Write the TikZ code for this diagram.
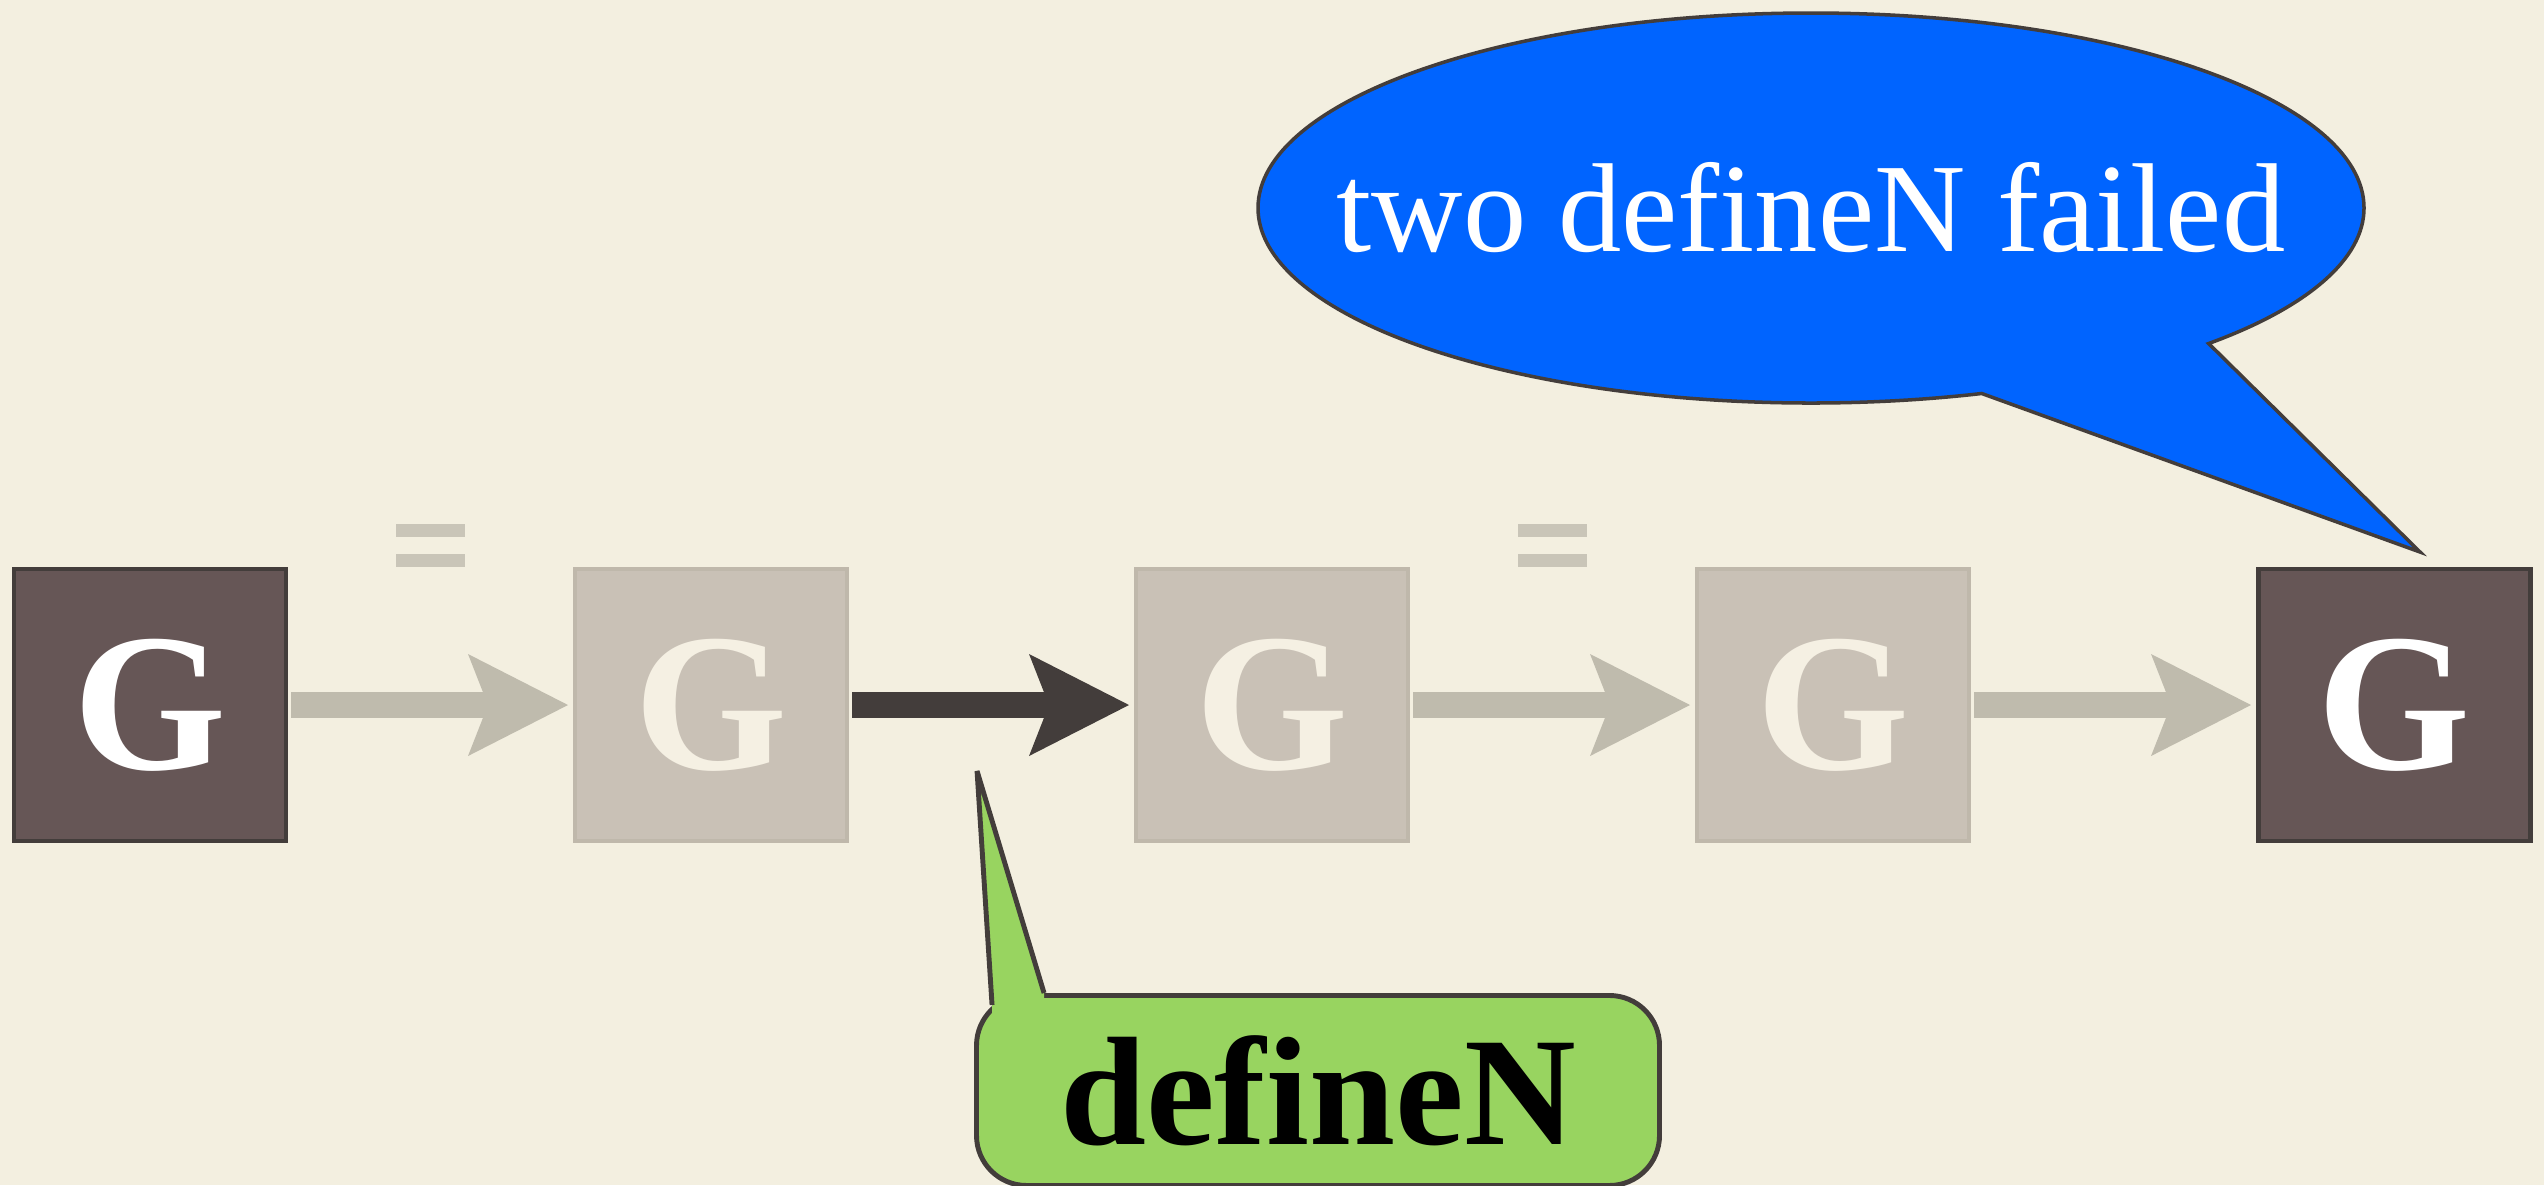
\documentclass[tikz,border=0pt]{standalone}
\usepackage{fontspec}
\setmainfont{Liberation Serif}
\usetikzlibrary{positioning, arrows.meta, shapes.callouts, calc}

\definecolor{paper}{HTML}{F3EFE0}
\definecolor{slate}{HTML}{665656}
\definecolor{ink}{HTML}{433D3B}
\definecolor{ghost}{HTML}{C9C1B6}
\definecolor{ghostline}{HTML}{BFB8AB}
\definecolor{ghostarrow}{HTML}{BFBBAD}
\definecolor{eqgray}{HTML}{C9C5B8}
\definecolor{cream}{HTML}{F5F0E3}
\definecolor{bubbleblue}{HTML}{0064FF}
\definecolor{taggreen}{HTML}{98D460}

\begin{document}
\begin{tikzpicture}[
  gbox/.style={draw=ink, line width=1.4pt, fill=slate, text=white, minimum size=2.72cm, inner sep=0pt, outer sep=0pt, font=\fontsize{56}{56}\selectfont\bfseries},
  gfade/.style={gbox, draw=ghostline, line width=1.1pt, fill=ghost, text=cream},
  flow/.style={-{Stealth[length=1cm, width=1.02cm, inset=0.2cm, line width=0pt]}, line width=0.26cm, draw=ghostarrow, shorten <=0.05cm, shorten >=0.07cm},
  flowdark/.style={flow, draw=ink},
  eqsign/.style={minimum width=0.69cm, minimum height=0.43cm, inner sep=0pt, yshift=1.6cm,
    path picture={
      \fill[eqgray] (path picture bounding box.north west) rectangle ([yshift=-0.13cm]path picture bounding box.north east);
      \fill[eqgray] (path picture bounding box.south west) rectangle ([yshift=0.13cm]path picture bounding box.south east);}},
  bubble/.style={ellipse callout, draw=ink, line width=1pt, fill=bubbleblue, minimum width=11.06cm, minimum height=3.9cm, inner sep=0pt, callout pointer arc=28},
  tag/.style={draw=ink, line width=1.4pt, fill=taggreen, rounded corners=0.5cm, minimum width=6.83cm, minimum height=1.9cm, inner sep=0pt, font=\fontsize{44}{44}\selectfont\bfseries}
]
  \fill[paper] (0,0) rectangle (25.44,-11.85);
  \useasboundingbox (0,0) rectangle (25.44,-11.85);

  % the chain of G's
  \node[gbox] (g1) at (1.50,-7.05) {G};
  \node[gfade, right=2.89cm of g1] (g2) {G};
  \node[gfade, right=2.89cm of g2] (g3) {G};
  \node[gfade, right=2.89cm of g3] (g4) {G};
  \node[gbox, right=2.89cm of g4] (g5) {G};

  \draw[flow] (g1) -- (g2);
  \draw[flowdark] (g2) -- (g3);
  \draw[flow] (g3) -- (g4);
  \draw[flow] (g4) -- (g5);

  \path (g1) -- node[eqsign] (eq1) {} (g2);
  \path (g3) -- node[eqsign] (eq2) {} (g4);

  % speech bubble
  \node[bubble, callout absolute pointer={($(g5.north)+(0.26,0.17)$)}] (fail) at (18.11,-2.08) {};
  \node[font=\fontsize{36}{36}\selectfont, text=white] (failtxt) at (fail.center) {two defineN failed};

  % green tag
  \coordinate (hint) at ($(g2.east)!0.45!(g3.west)+(0,-0.66)$);
  \node[tag, below=1.52cm of g3, xshift=0.46cm] (defn) {defineN};
  \fill[taggreen] (hint) -- ($(defn.north west)+(0.70,0)$) -- ($(defn.north west)+(0.70,-0.15)$)
    -- ($(defn.north west)+(0.18,-0.30)$) -- ($(defn.north west)+(0.18,-0.12)$) -- cycle;
  \draw[ink, line width=1.4pt, line join=bevel] ($(defn.north west)+(0.18,-0.12)$) -- (hint) -- ($(defn.north west)+(0.70,0)$);
\end{tikzpicture}
\end{document}
